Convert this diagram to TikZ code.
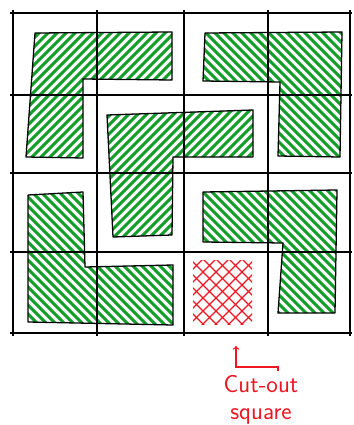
\documentclass[tikz,border=0pt]{standalone}
\definecolor{tilegreen}{RGB}{18,158,40}
\definecolor{cutred}{RGB}{238,22,34}

\begin{document}
\begin{tikzpicture}[x=0.03cm,y=-0.03cm,
  grid-line/.style={draw=black,line width=1pt},
  tile-edge/.style={draw=black,line width=1.1pt,line join=round},
  tile-hatch/.style={draw=tilegreen,line width=2.6pt,line cap=round},
  cut-hatch/.style={draw=cutred,line width=1.1pt,line cap=round},
  label-text/.style={text=cutred,font=\sffamily\fontsize{21}{21}\selectfont,align=center,inner sep=0pt}]
\useasboundingbox (0,0) rectangle (353,425);
\begin{scope}
\clip (35,33) -- (172,32) -- (172,80) -- (83,79) -- (83,158) -- (26,157) -- cycle;
\foreach \k in {-340,-331,...,353} \draw[tile-hatch] (\k,340) -- (\k+340,0);
\end{scope}
\path[tile-edge] (35,33) -- (172,32) -- (172,80) -- (83,79) -- (83,158) -- (26,157) -- cycle;
\begin{scope}
\clip (205,33) -- (342,32) -- (340,157) -- (278,156) -- (280,82) -- (203,81) -- cycle;
\foreach \k in {-340,-331,...,353} \draw[tile-hatch] (\k,0) -- (\k+340,340);
\end{scope}
\path[tile-edge] (205,33) -- (342,32) -- (340,157) -- (278,156) -- (280,82) -- (203,81) -- cycle;
\begin{scope}
\clip (107,115) -- (253,110) -- (253,157) -- (173,157) -- (172,235) -- (113,237) -- cycle;
\foreach \k in {-340,-331,...,353} \draw[tile-hatch] (\k,340) -- (\k+340,0);
\end{scope}
\path[tile-edge] (107,115) -- (253,110) -- (253,157) -- (173,157) -- (172,235) -- (113,237) -- cycle;
\begin{scope}
\clip (28,195) -- (83,192) -- (85,267) -- (173,265) -- (173,325) -- (28,322) -- cycle;
\foreach \k in {-340,-331,...,353} \draw[tile-hatch] (\k,0) -- (\k+340,340);
\end{scope}
\path[tile-edge] (28,195) -- (83,192) -- (85,267) -- (173,265) -- (173,325) -- (28,322) -- cycle;
\begin{scope}
\clip (203,192) -- (337,190) -- (335,313) -- (278,313) -- (283,243) -- (203,242) -- cycle;
\foreach \k in {-340,-331,...,353} \draw[tile-hatch] (\k,0) -- (\k+340,340);
\end{scope}
\path[tile-edge] (203,192) -- (337,190) -- (335,313) -- (278,313) -- (283,243) -- (203,242) -- cycle;
\begin{scope}
\clip (193,260) rectangle (252,324);
\foreach \k in {-160,-147,...,260} {
  \draw[cut-hatch] (\k,0) -- (\k+340,340);
  \draw[cut-hatch] (\k+100,340) -- (\k+440,0);
}
\end{scope}
\foreach \gx in {13,97,184,268,350} \draw[grid-line] (\gx,10) -- (\gx,336);
\foreach \gy in {13,95,173,252,333} \draw[grid-line] (10,\gy) -- (352,\gy);
\node[label-text] (cut-label) at (261,400) {Cut-out\\[2pt]square};
\coordinate (arrow-tail) at (278,371);
\coordinate (arrow-tip) at (236,346);
\draw[cutred,line width=1.1pt,-to] (arrow-tail) -- ++(0,-4) -| (arrow-tip);
\end{tikzpicture}
\end{document}
